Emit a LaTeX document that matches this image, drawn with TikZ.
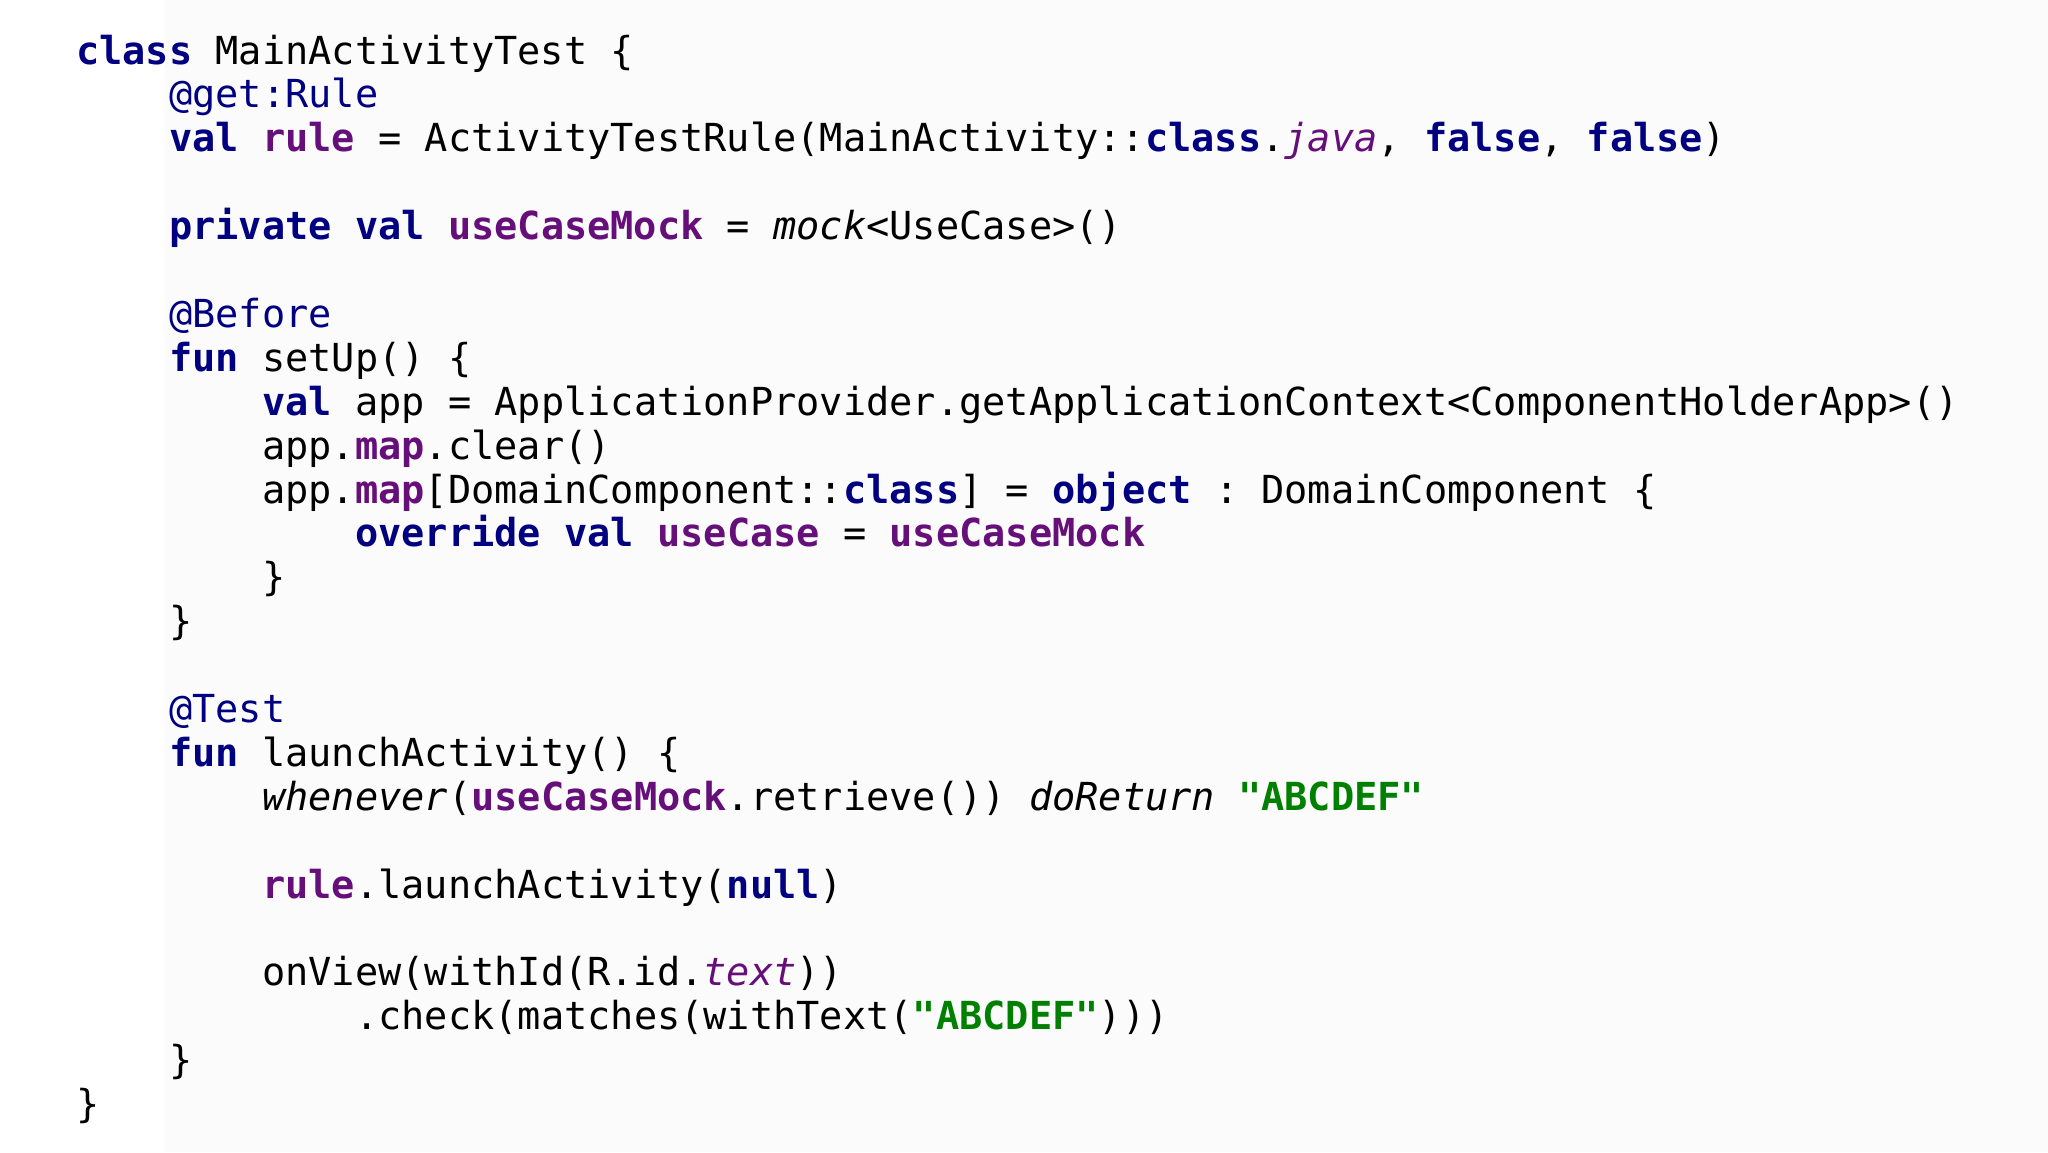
\documentclass[tikz,border=0pt]{standalone}
\usepackage{fontspec}
\setmonofont{DejaVu Sans Mono}
\definecolor{kw}{HTML}{000080}
\definecolor{pp}{HTML}{660E7A}
\definecolor{st}{HTML}{008000}
\newcommand{\K}[1]{\textcolor{kw}{\textbf{#1}}}
\newcommand{\Pp}[1]{\textcolor{pp}{\textbf{#1}}}
\newcommand{\Sg}[1]{\textcolor{st}{\textbf{#1}}}
\newcommand{\An}[1]{\textcolor{kw}{#1}}
\begin{document}
\begin{tikzpicture}[x=1pt,y=-1pt,
  ln/.style={anchor=base west,inner sep=0pt,font=\ttfamily\fontsize{38.6}{44}\selectfont}]
\useasboundingbox (0,0) rectangle (2048,1152);
\fill[white] (0,0) rectangle (2048,1152);
\fill[black!1.5] (165,0) rectangle (2048,1152);
\def\L#1{\fpeval{64+43.9*#1}}
\newcommand{\row}[3]{\node[ln] (#1) at ({76+23.24*#2},{64+43.9*#3}) {#1x};}
\node[ln] (l0) at (76,64) {\K{class} MainActivityTest \{};
\node[ln] (l1) at (169,{64+43.9*1}) {\An{@get:Rule}};
\node[ln] (l2) at (169,{64+43.9*2}) {\K{val} \Pp{rule} = ActivityTestRule(MainActivity::\K{class}.\textcolor{pp}{\textit{java}}, \K{false}, \K{false})};
\node[ln] (l4) at (169,{64+43.9*4}) {\K{private val} \Pp{useCaseMock} = \textit{mock}<UseCase>()};
\node[ln] (l6) at (169,{64+43.9*6}) {\An{@Before}};
\node[ln] (l7) at (169,{64+43.9*7}) {\K{fun} setUp() \{};
\node[ln] (l8) at (262,{64+43.9*8}) {\K{val} app = ApplicationProvider.getApplicationContext<ComponentHolderApp>()};
\node[ln] (l9) at (262,{64+43.9*9}) {app.\Pp{map}.clear()};
\node[ln] (l10) at (262,{64+43.9*10}) {app.\Pp{map}[DomainComponent::\K{class}] = \K{object} : DomainComponent \{};
\node[ln] (l11) at (355,{64+43.9*11}) {\K{override val} \Pp{useCase} = \Pp{useCaseMock}};
\node[ln] (l12) at (262,{64+43.9*12}) {\}};
\node[ln] (l13) at (169,{64+43.9*13}) {\}};
\node[ln] (l15) at (169,{64+43.9*15}) {\An{@Test}};
\node[ln] (l16) at (169,{64+43.9*16}) {\K{fun} launchActivity() \{};
\node[ln] (l17) at (262,{64+43.9*17}) {\textit{whenever}(\Pp{useCaseMock}.retrieve()) \textit{doReturn} \Sg{"ABCDEF"}};
\node[ln] (l19) at (262,{64+43.9*19}) {\Pp{rule}.launchActivity(\K{null})};
\node[ln] (l21) at (262,{64+43.9*21}) {onView(withId(R.id.\textcolor{pp}{\textit{text}}))};
\node[ln] (l22) at (355,{64+43.9*22}) {.check(matches(withText(\Sg{"ABCDEF"})))};
\node[ln] (l23) at (169,{64+43.9*23}) {\}};
\node[ln] (l24) at (76,{64+43.9*24}) {\}};
\end{tikzpicture}
\end{document}
